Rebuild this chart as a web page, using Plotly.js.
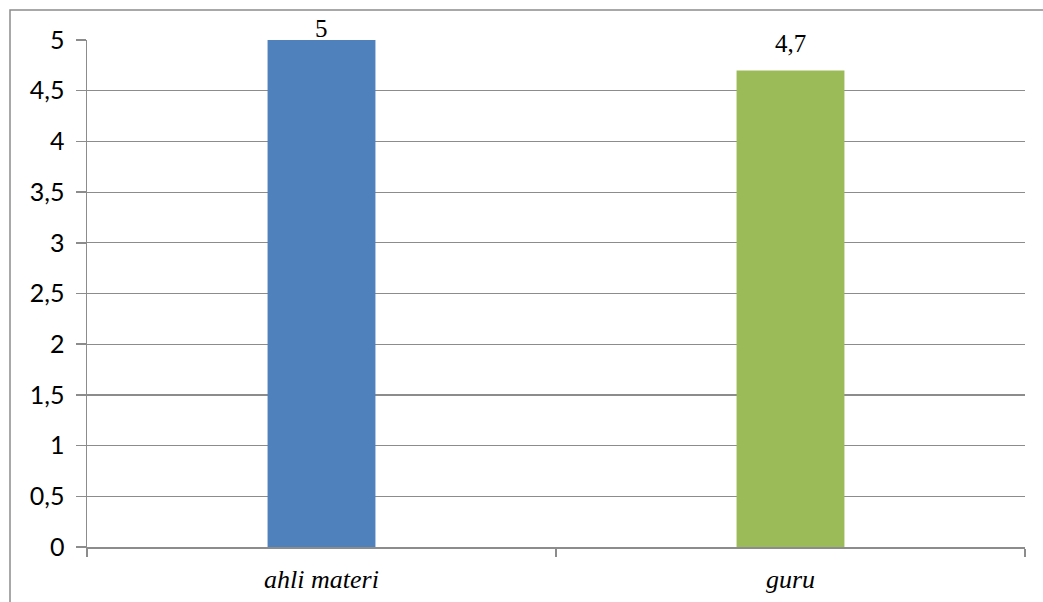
<!DOCTYPE html>
<html>
<head>
<meta charset="utf-8">
<script src="https://cdn.plot.ly/plotly-3.0.1.min.js"></script>
<style>
  html, body { margin: 0; padding: 0; background: #ffffff; }
  #chart { width: 1043px; height: 602px; }
</style>
</head>
<body>
<div id="chart"></div>
<script>
// Average score per validator group
const categories = ['ahli materi', 'guru'];
const scores = [5, 4.7];
const barColors = ['#4F81BD', '#9BBB59'];
const yTicks = [0, 0.5, 1, 1.5, 2, 2.5, 3, 3.5, 4, 4.5, 5];

const lineGrey = '#8c8c8c';
const yMax = 5;
const plotHeightPx = 602 - 40 - 55;

const fmt = v => String(v).replace('.', ',');

const trace = {
  type: 'bar',
  x: categories,
  y: scores,
  marker: { color: barColors, line: { width: 0 } },
  hoverinfo: 'x+y',
  cliponaxis: false
};

// Value labels sit a little above each bar, but are pulled down
// so they never rise past the top of the plotting area.
const annotations = categories.map((c, i) => {
  const room = (yMax - scores[i]) / yMax * plotHeightPx;
  return {
    x: c,
    y: scores[i],
    xref: 'x',
    yref: 'y',
    text: fmt(scores[i]),
    showarrow: false,
    yanchor: 'bottom',
    yshift: -4 + Math.min(15, room),
    font: { family: 'Liberation Serif, Times New Roman, serif', size: 25, color: '#000000' }
  };
});

const layout = {
  width: 1043,
  height: 602,
  margin: { l: 87, r: 18, t: 40, b: 55 },
  paper_bgcolor: '#ffffff',
  plot_bgcolor: '#ffffff',
  separators: ',.',
  showlegend: false,
  bargap: 0.77,
  xaxis: {
    type: 'category',
    showgrid: false,
    showline: true,
    linecolor: lineGrey,
    linewidth: 1.5,
    ticks: 'outside',
    tickson: 'boundaries',
    ticklen: 8,
    tickwidth: 1.5,
    tickcolor: lineGrey,
    ticklabelstandoff: 8,
    tickfont: { family: 'Liberation Serif, Times New Roman, serif', size: 26, color: '#000000', style: 'italic' }
  },
  yaxis: {
    range: [0, yMax],
    tickvals: yTicks,
    ticktext: yTicks.map(fmt),
    showgrid: true,
    gridcolor: lineGrey,
    gridwidth: 1.2,
    zeroline: false,
    showline: true,
    linecolor: lineGrey,
    linewidth: 1.5,
    ticks: 'outside',
    ticklen: 10,
    tickwidth: 1.5,
    tickcolor: lineGrey,
    ticklabelstandoff: 6,
    tickfont: { family: 'Lato, Open Sans, sans-serif', size: 25, color: '#000000' }
  },
  annotations: annotations,
  shapes: [
    {
      type: 'rect',
      xref: 'paper', yref: 'paper',
      x0: (10 - 87) / 938, x1: 1.2,
      y0: -0.3, y1: 1 + 30 / 507,
      line: { color: lineGrey, width: 1.5 },
      fillcolor: 'rgba(0,0,0,0)',
      layer: 'below'
    }
  ]
};

Plotly.newPlot('chart', [trace], layout, { displayModeBar: false, staticPlot: true });
</script>
</body>
</html>
